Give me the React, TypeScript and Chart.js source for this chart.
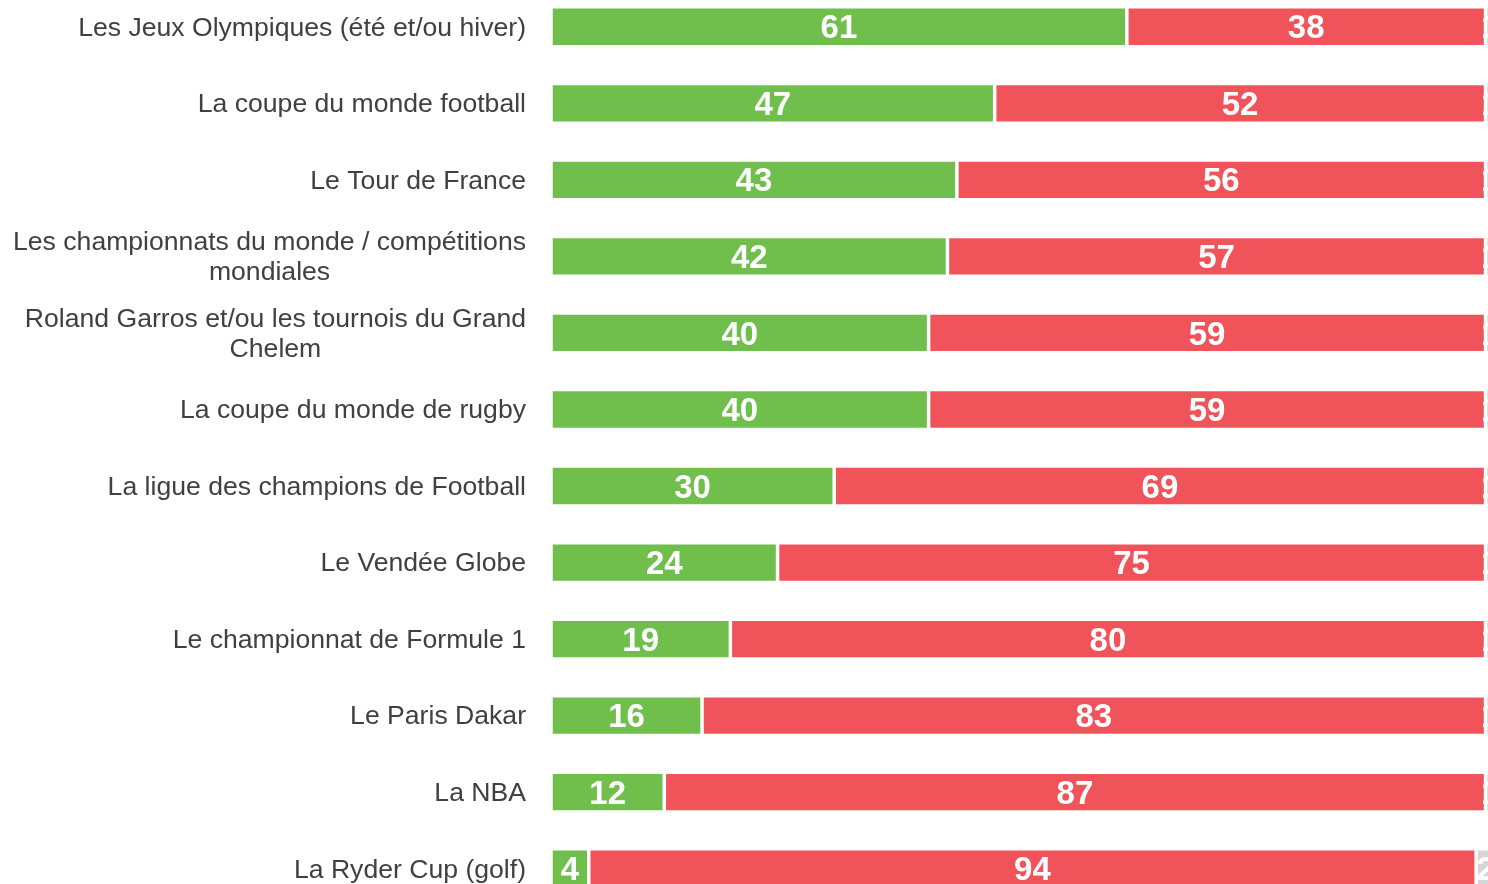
import React, { useEffect, useRef } from 'react';
import { Chart, registerables } from 'chart.js';

Chart.register(...registerables);

const categories: (string | string[])[] = [
  'Les Jeux Olympiques (été et/ou hiver)',
  'La coupe du monde football',
  'Le Tour de France',
  ['Les championnats du monde / compétitions', 'mondiales'],
  ['Roland Garros et/ou les tournois du Grand', 'Chelem'],
  'La coupe du monde de rugby',
  'La ligue des champions de Football',
  'Le Vendée Globe',
  'Le championnat de Formule 1',
  'Le Paris Dakar',
  'La NBA',
  'La Ryder Cup (golf)',
];

const greenValues = [61, 47, 43, 42, 40, 40, 30, 24, 19, 16, 12, 4];
const redValues = [38, 52, 56, 57, 59, 59, 69, 75, 80, 83, 87, 94];
const greyValues = [1, 1, 1, 1, 1, 1, 1, 1, 1, 1, 1, 2];

const FONT = '"Liberation Sans", Arial, Helvetica, sans-serif';
const GREEN = 'rgb(112,191,76)';
const RED = 'rgb(240,84,90)';
const GREY = 'rgb(214,214,214)';

const yLabelPlugin = {
  id: 'yLabels',
  afterDraw(chart: any) {
    const ctx = chart.ctx;
    const y = chart.scales.y;
    ctx.save();
    ctx.font = `26.6px ${FONT}`;
    ctx.fillStyle = '#404040';
    ctx.textBaseline = 'middle';
    ctx.textAlign = 'center';
    categories.forEach((lab, i) => {
      const lines = Array.isArray(lab) ? lab : [lab];
      const w = Math.max(...lines.map((l) => ctx.measureText(l).width));
      const cx = 526 - w / 2;
      const cy = y.getPixelForValue(i) + 1.5;
      lines.forEach((l, j) => {
        ctx.fillText(l, cx, cy + (j - (lines.length - 1) / 2) * 30);
      });
    });
    ctx.restore();
  },
};

const valueLabelPlugin = {
  id: 'valueLabels',
  afterDatasetsDraw(chart: any) {
    const ctx = chart.ctx;
    ctx.save();
    ctx.font = `bold 33px ${FONT}`;
    ctx.fillStyle = '#ffffff';
    ctx.textAlign = 'center';
    ctx.textBaseline = 'middle';
    chart.data.datasets.forEach((ds: any, di: number) => {
      const meta = chart.getDatasetMeta(di);
      meta.data.forEach((el: any, i: number) => {
        const { x, base, y } = el.getProps(['x', 'base', 'y'], true);
        ctx.fillText(String(ds.data[i]), (x + base) / 2, y + 2.5);
      });
    });
    ctx.restore();
  },
};

export default function App() {
  const ref = useRef<HTMLCanvasElement | null>(null);

  useEffect(() => {
    if (!ref.current) return;
    const common = {
      borderColor: '#ffffff',
      borderWidth: 1.75,
      borderSkipped: false,
      categoryPercentage: 1,
      barPercentage: 0.52,
    };
    const chart = new Chart(ref.current, {
      type: 'bar',
      data: {
        labels: categories.map((c) => (Array.isArray(c) ? c.join(' ') : c)),
        datasets: [
          { ...common, label: 'Oui', data: greenValues, backgroundColor: GREEN },
          { ...common, label: 'Non', data: redValues, backgroundColor: RED },
          { ...common, label: 'NSP', data: greyValues, backgroundColor: GREY },
        ],
      },
      options: {
        indexAxis: 'y',
        responsive: false,
        animation: false,
        devicePixelRatio: 1,
        layout: { padding: { left: 551, right: 15, top: 0.5, bottom: 1 } },
        scales: {
          x: { stacked: true, min: 0, max: 100, display: false },
          y: { stacked: true, display: false },
        },
        plugins: {
          legend: { display: false },
          tooltip: { enabled: false },
        },
      } as any,
      plugins: [yLabelPlugin, valueLabelPlugin],
    });
    return () => chart.destroy();
  }, []);

  return (
    <div
      style={{
        position: 'fixed',
        left: 0,
        top: 0,
        width: 1488,
        height: 884,
        overflow: 'hidden',
        background: '#ffffff',
      }}
    >
      <canvas
        ref={ref}
        width={1510}
        height={920}
        style={{ position: 'absolute', left: 0, top: -12, width: 1510, height: 920, display: 'block' }}
      />
    </div>
  );
}
